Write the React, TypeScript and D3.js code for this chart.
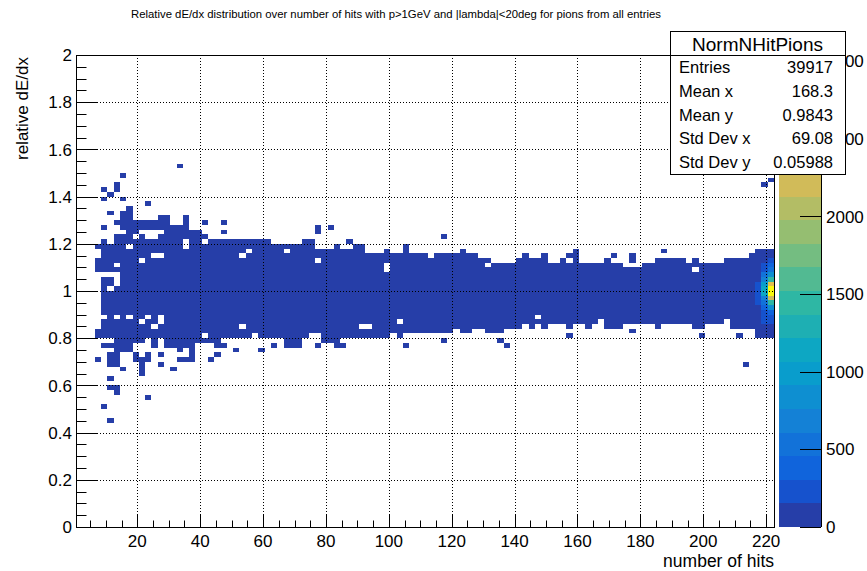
import React from 'react';
import * as d3 from 'd3';

const FONT = "'Liberation Sans', Arial, Helvetica, sans-serif";

// binning: number of hits (2 per bin) x relative dE/dx (0.02 per bin)
const hitsRange = [0.5, 222.5];
const hitsBinWidth = 2;
const dedxRange = [0, 2];
const dedxBinWidth = 0.02;

// dense band of the histogram, per hits bin starting at bin 3 (6.5-8.5 hits)
const firstColumn = 3;
const coreTopBin = [
  56, 60, 60, 61, 61, 62, 63, 63, 62, 62,
  64, 64, 63, 63, 63, 62, 62, 61, 60, 60,
  60, 60, 60, 60, 60, 60, 60, 60, 59, 59,
  59, 59, 59, 59, 59, 58, 58, 58, 59, 58,
  58, 59, 59, 57, 57, 57, 58, 57, 57, 58,
  57, 57, 57, 56, 57, 57, 57, 57, 58, 57,
  57, 56, 56, 55, 55, 55, 55, 56, 57, 56,
  56, 56, 55, 55, 56, 55, 56, 55, 55, 55,
  55, 56, 55, 55, 54, 54, 54, 55, 55, 56,
  55, 56, 56, 56, 55, 55, 55, 55, 55, 55,
  56, 56, 56, 56, 57, 57, 58, 58,
];
const coreBottomBin = [
  54, 40, 40, 39, 39, 39, 39, 39, 40, 40,
  40, 39, 39, 39, 39, 39, 40, 40, 39, 39,
  40, 40, 40, 40, 40, 40, 40, 40, 40, 40,
  39, 39, 40, 40, 40, 40, 40, 39, 39, 40,
  40, 40, 40, 40, 40, 40, 40, 41, 40, 41,
  41, 41, 41, 41, 41, 41, 41, 42, 41, 41,
  42, 42, 41, 41, 41, 42, 42, 42, 43, 42,
  43, 42, 43, 43, 43, 43, 43, 43, 42, 43,
  43, 42, 42, 42, 43, 43, 43, 43, 43, 43,
  43, 43, 43, 43, 43, 42, 42, 43, 43, 43,
  44, 42, 42, 42, 42, 40, 40, 40,
];
const coreCount = 45;

// empty bins inside the band [hits bin, dE/dx bin]
const holes: [number, number][] = [
  [4, 53], [5, 53], [5, 50], [6, 55], [6, 51], [6, 52], [6, 53], [5, 60], [4, 44], [6, 44],
  [8, 44], [11, 44], [13, 43], [13, 44], [10, 43], [12, 42], [8, 59], [10, 56], [12, 57], [13, 57],
  [17, 59], [17, 60], [20, 60], [26, 57], [27, 58], [33, 58], [38, 56], [26, 42], [20, 40], [28, 40],
  [37, 40], [38, 40], [49, 54], [49, 55], [45, 42], [46, 42], [51, 43], [65, 55], [73, 44], [98, 54],
  [83, 43], [11, 61], [12, 61], [11, 62], [12, 62], [13, 62], [10, 62], [9, 61],
];

// isolated filled bins [hits bin, dE/dx bin]
const strays: [number, number][] = [
  [16, 76], [7, 74], [6, 72], [6, 71], [4, 71], [5, 70], [4, 69], [7, 69], [5, 66], [8, 67],
  [7, 66], [8, 66], [7, 65], [8, 65], [7, 64], [8, 64], [7, 63], [8, 63], [11, 68], [6, 64],
  [9, 64], [10, 64], [11, 64], [11, 63], [12, 63], [13, 65], [14, 65], [12, 64], [17, 64], [17, 65],
  [20, 64], [23, 64], [23, 62], [38, 63], [4, 63], [38, 62], [40, 63], [43, 60], [58, 61], [3, 59],
  [74, 57], [79, 58], [78, 57], [79, 57], [85, 57], [88, 56], [88, 57], [93, 58], [93, 56], [98, 56],
  [109, 72], [110, 73], [52, 59], [36, 60], [37, 60],
  [3, 41], [3, 40], [3, 35], [4, 25], [5, 22], [6, 29], [5, 29], [6, 28], [5, 31], [11, 27],
  [7, 33], [10, 32], [10, 33], [10, 34], [10, 35], [13, 36], [13, 34], [15, 33], [5, 34], [5, 35],
  [6, 34], [6, 35], [5, 36], [6, 36], [6, 37], [7, 37], [8, 37], [9, 35], [9, 36], [11, 35],
  [11, 36], [12, 38], [12, 39], [15, 38], [16, 38], [17, 38], [18, 38], [16, 37], [16, 35], [17, 35],
  [18, 35], [18, 36], [18, 37], [19, 39], [20, 39], [21, 35], [22, 36], [22, 38], [23, 38], [25, 37],
  [29, 37], [31, 38], [33, 38], [34, 38], [35, 38], [33, 39], [34, 39], [35, 39], [38, 38], [39, 39],
  [41, 38], [42, 38], [52, 38], [58, 39], [67, 39], [68, 38], [78, 40], [99, 40], [105, 40], [88, 41],
  [81, 42], [78, 42], [92, 42], [106, 34], [4, 38], [5, 38], [6, 38], [7, 38], [8, 38], [14, 38],
];
const strayCount = 2;

// high-count bins at the largest number of hits, dE/dx bins 40..58
const hotRowStart = 40;
const hotColumns: { column: number; counts: number[] }[] = [
  { column: 108, counts: [40, 60, 80, 100, 120, 140, 150, 165, 175, 180, 175, 160, 140, 120, 100, 80, 60, 40, 20] },
  { column: 109, counts: [60, 90, 120, 160, 200, 260, 350, 520, 750, 1100, 1150, 950, 680, 460, 300, 200, 140, 90, 50] },
  { column: 110, counts: [30, 60, 120, 180, 300, 450, 800, 1500, 2200, 2950, 3030, 2300, 1400, 900, 500, 330, 180, 120, 80] },
];

const zMax = 3040;
const nContours = 20;
const zTicks = [0, 500, 1000, 1500, 2000, 2500, 3000];
const xMajorTicks = [20, 40, 60, 80, 100, 120, 140, 160, 180, 200, 220];
const yMajorTicks = [0, 0.2, 0.4, 0.6, 0.8, 1, 1.2, 1.4, 1.6, 1.8, 2];
const yTickLabels = ['0', '0.2', '0.4', '0.6', '0.8', '1', '1.2', '1.4', '1.6', '1.8', '2'];

const statsTitle = 'NormNHitPions';
const statsRows = [
  ['Entries', '39917'],
  ['Mean x', '168.3'],
  ['Mean y', '0.9843'],
  ['Std Dev x', '69.08'],
  ['Std Dev y', '0.05988'],
];

// ROOT kBird palette
const birdStops = [0, 0.125, 0.25, 0.375, 0.5, 0.625, 0.75, 0.875, 1];
const birdR = [0.2082, 0.0592, 0.078, 0.0232, 0.1802, 0.5301, 0.8186, 0.9956, 0.9764];
const birdG = [0.1664, 0.3599, 0.5041, 0.6419, 0.7178, 0.7492, 0.7328, 0.7862, 0.9832];
const birdB = [0.5293, 0.8684, 0.8385, 0.7914, 0.6425, 0.4662, 0.3499, 0.1968, 0.0539];

function buildPalette(n: number) {
  const out: string[] = [];
  for (let g = 1; g < birdStops.length; g++) {
    const nc = Math.floor(n * birdStops[g]) - Math.floor(n * birdStops[g - 1]);
    for (let c = 0; c < nc; c++) {
      const r = birdR[g - 1] + (c * (birdR[g] - birdR[g - 1])) / nc;
      const gg = birdG[g - 1] + (c * (birdG[g] - birdG[g - 1])) / nc;
      const b = birdB[g - 1] + (c * (birdB[g] - birdB[g - 1])) / nc;
      out.push(d3.rgb(r * 255, gg * 255, b * 255).formatHex());
    }
  }
  return out;
}
const palette = buildPalette(255);
const bandColor = (i: number) =>
  palette[Math.min(palette.length - 1, Math.floor(((i + 0.99) * palette.length) / nContours))];

const frame = { left: 76, right: 774, top: 55, bottom: 527 };
const bar = { left: 779, right: 821 };

export default function App() {
  const x = d3.scaleLinear().domain(hitsRange).range([frame.left, frame.right]);
  const y = d3.scaleLinear().domain(dedxRange).range([frame.bottom, frame.top]);
  const z = d3.scaleLinear().domain([0, zMax]).range([frame.bottom, frame.top]);

  const cells = new Map<string, number>();
  const key = (c: number, r: number) => c + ':' + r;
  coreTopBin.forEach((top, i) => {
    for (let r = coreBottomBin[i]; r <= top; r++) cells.set(key(firstColumn + i, r), coreCount);
  });
  holes.forEach(([c, r]) => cells.delete(key(c, r)));
  strays.forEach(([c, r]) => cells.set(key(c, r), strayCount));
  hotColumns.forEach(({ column, counts }) =>
    counts.forEach((v, i) => cells.set(key(column, hotRowStart + i), v))
  );

  const bandWidth = zMax / nContours;
  const rects = Array.from(cells.entries()).map(([k, count]) => {
    const [c, r] = k.split(':').map(Number);
    const x0 = Math.round(x(hitsRange[0] + c * hitsBinWidth));
    const x1 = Math.round(x(hitsRange[0] + (c + 1) * hitsBinWidth));
    const y0 = Math.round(y(dedxRange[0] + (r + 1) * dedxBinWidth));
    const y1 = Math.round(y(dedxRange[0] + r * dedxBinWidth));
    const band = Math.min(nContours - 1, Math.floor(count / bandWidth));
    return <rect key={k} x={x0} y={y0} width={x1 - x0} height={y1 - y0} fill={bandColor(band)} />;
  });

  const xMinor = d3.range(5, hitsRange[1], 5);
  const yMinor = d3.range(0, 2.0001, 0.05);
  const bands = d3.range(nContours);

  const boxL = 670, boxR = 845, boxT = 31, titleB = 55, rowH = 23.8;
  const boxB = titleB + rowH * 5;

  return (
    <svg width={867} height={571} style={{ position: 'absolute', left: 0, top: 0, background: '#fff' }} fontFamily={FONT}>
      <defs>
        <clipPath id="zlabels">
          <rect x={bar.left} y={0} width={867 - bar.left} height={571} />
          <rect x={boxR + 1} y={0} width={867 - boxR} height={boxB + 2} />
        </clipPath>
        <clipPath id="belowbox">
          <rect x={0} y={boxB + 1} width={867} height={571} />
          <rect x={boxR + 1} y={0} width={867 - boxR} height={571} />
        </clipPath>
      </defs>
      <rect x={0} y={0} width={867} height={571} fill="#fff" />
      <text x={396} y={17.5} fontSize={10} textAnchor="middle" textLength={530} lengthAdjust="spacingAndGlyphs">
        Relative dE/dx distribution over number of hits with p&gt;1GeV and |lambda|&lt;20deg for pions from all entries
      </text>

      <g shapeRendering="crispEdges">{rects}</g>

      {/* grid */}
      <g stroke="#000" strokeWidth={1} strokeDasharray="1 2">
        {xMajorTicks.map((t) => (
          <line key={'gx' + t} x1={Math.round(x(t)) + 0.5} x2={Math.round(x(t)) + 0.5} y1={frame.top} y2={frame.bottom} />
        ))}
        {yMajorTicks.slice(1, -1).map((t) => (
          <line key={'gy' + t} x1={frame.left} x2={frame.right} y1={Math.round(y(t)) + 0.5} y2={Math.round(y(t)) + 0.5} />
        ))}
      </g>

      {/* frame and ticks */}
      <rect x={frame.left + 0.5} y={frame.top + 0.5} width={frame.right - frame.left} height={frame.bottom - frame.top} fill="none" stroke="#000" />
      <g stroke="#000" strokeWidth={1}>
        {xMinor.map((t) => {
          const major = t % 20 === 0;
          const px = Math.round(x(t)) + 0.5;
          return <line key={'tx' + t} x1={px} x2={px} y1={frame.bottom} y2={frame.bottom - (major ? 13 : 6.5)} />;
        })}
        {yMinor.map((t, i) => {
          const major = i % 4 === 0;
          const py = Math.round(y(t)) + 0.5;
          return <line key={'ty' + i} x1={frame.left} x2={frame.left + (major ? 21 : 10.5)} y1={py} y2={py} />;
        })}
      </g>
      <g fontSize={17} fill="#000">
        {xMajorTicks.map((t) => (
          <text key={'lx' + t} x={x(t)} y={547} textAnchor="middle">{t}</text>
        ))}
        {yMajorTicks.map((t, i) => (
          <text key={'ly' + t} x={72} y={y(t)} dy="0.36em" textAnchor="end">{yTickLabels[i]}</text>
        ))}
        <text x={frame.right} y={567} textAnchor="end" fontSize={17.5}>number of hits</text>
        <text transform={`translate(28,57) rotate(-90)`} textAnchor="end" fontSize={17}>relative dE/dx</text>
      </g>

      {/* colour palette */}
      <g shapeRendering="crispEdges">
        {bands.map((i) => {
          const y0 = Math.round(z((i + 1) * bandWidth));
          const y1 = Math.round(z(i * bandWidth));
          return <rect key={'b' + i} x={bar.left} y={y0} width={bar.right - bar.left} height={y1 - y0} fill={bandColor(i)} />;
        })}
      </g>
      <line x1={bar.right + 0.5} x2={bar.right + 0.5} y1={frame.top} y2={frame.bottom} stroke="#000" />
      <g stroke="#000">
        {zTicks.map((t) => (
          <line key={'zt' + t} x1={bar.right - 21} x2={bar.right} y1={Math.round(z(t)) + 0.5} y2={Math.round(z(t)) + 0.5} />
        ))}
      </g>
      <g fontSize={17}>
        {zTicks.map((t) =>
          z(t) < boxB ? (
            <text key={'zl' + t} x={826} y={z(t)} dy="0.36em" clipPath="url(#belowbox)">{t}</text>
          ) : (
            <text key={'zl' + t} x={826} y={z(t)} dy="0.36em">{t}</text>
          )
        )}
      </g>

      {/* statistics box */}
      <rect x={boxL + 0.5} y={boxT + 0.5} width={boxR - boxL} height={boxB - boxT} fill="#fff" stroke="#000" />
      <line x1={boxL} x2={boxR} y1={titleB + 0.5} y2={titleB + 0.5} stroke="#000" />
      <text x={(boxL + boxR) / 2} y={50.5} fontSize={19} textAnchor="middle">{statsTitle}</text>
      {statsRows.map(([label, value], i) => (
        <g key={label} fontSize={16.5}>
          <text x={679} y={titleB + rowH * (i + 0.5) + 6}>{label}</text>
          <text x={833} y={titleB + rowH * (i + 0.5) + 6} textAnchor="end">{value}</text>
        </g>
      ))}
    </svg>
  );
}
